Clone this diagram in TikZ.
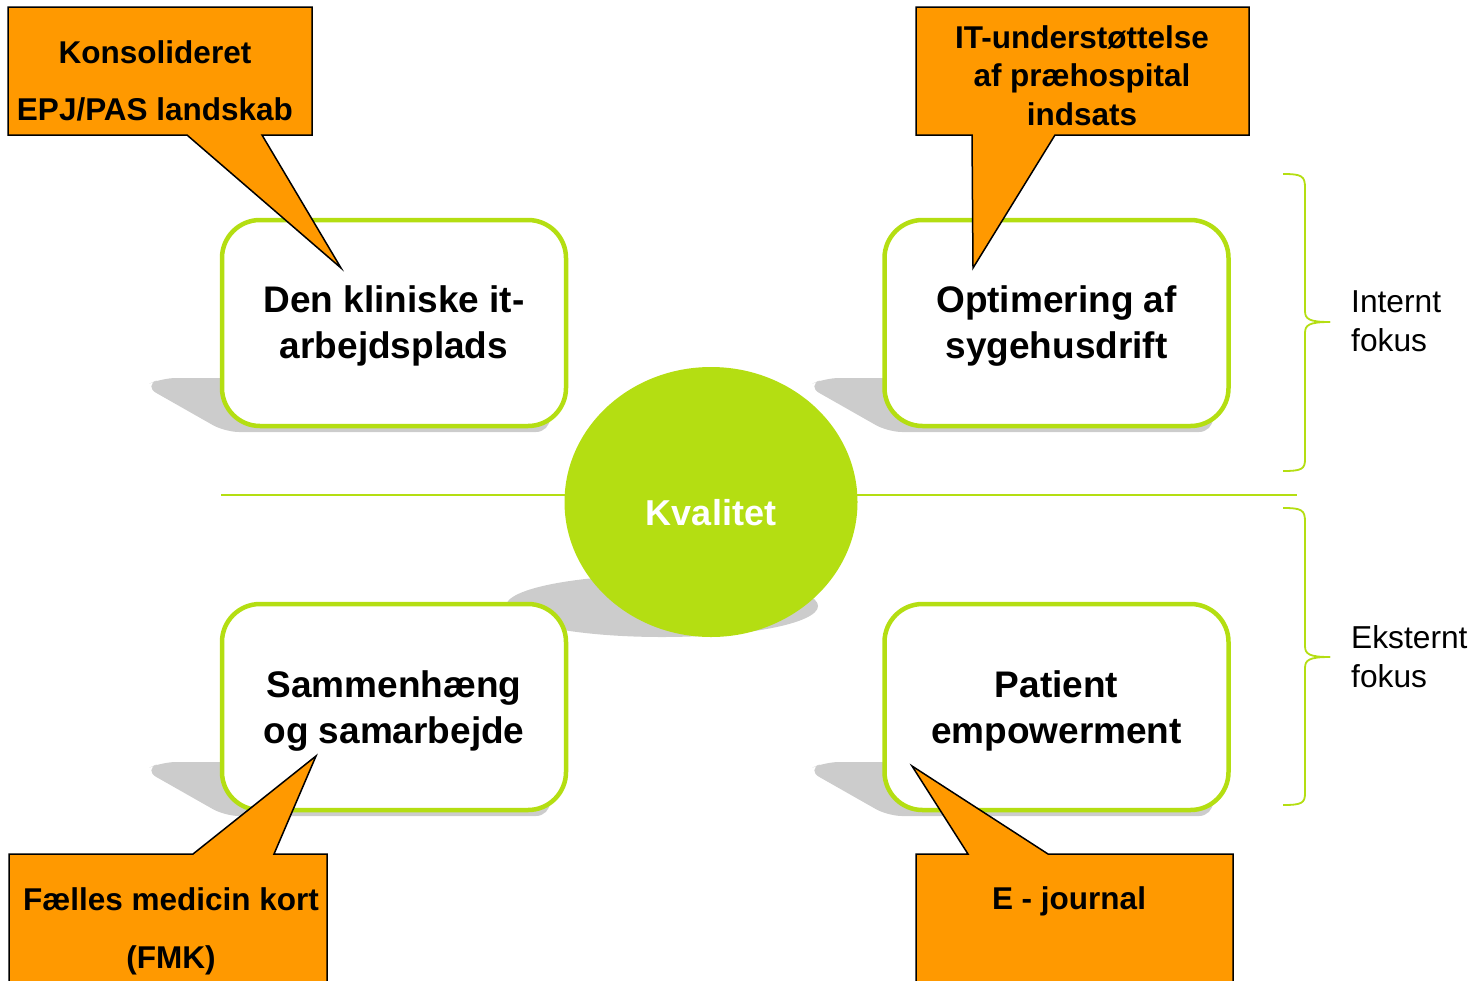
\documentclass[tikz,border=0pt]{standalone}
\usepackage{fontspec}
\setmainfont{Liberation Sans}
\usetikzlibrary{shapes.geometric}
\definecolor{kgreen}{RGB}{180,222,18}
\definecolor{korange}{RGB}{255,153,0}
\definecolor{kshadow}{RGB}{204,204,204}
\begin{document}
\begin{tikzpicture}[x=1pt,y=-1pt,
  qbox/.style={draw=kgreen, line width=4.5pt, fill=white, rounded corners=38pt,
    minimum width=344pt, minimum height=206pt, inner sep=0pt},
  qtext/.style={font=\fontsize{37}{46}\selectfont\bfseries, align=center, inner sep=0pt},
  callout/.style={fill=korange, draw=black, line width=1.5pt, line join=miter},
  ctext/.style={font=\fontsize{31.5}{#1}\selectfont\bfseries, align=center, inner sep=0pt},
  ctext/.default=38.5,
  boxshadow/.style={fill=kshadow, rounded corners=14pt},
  side/.style={font=\fontsize{31.7}{39}\selectfont, align=left, anchor=west, inner sep=0pt},
  bracestyle/.style={draw=kgreen, line width=1.8pt}
]
\useasboundingbox (0,0) rectangle (1474,980);
\clip (0,0) rectangle (1474,980);

% horizontal axis
\coordinate (hl) at (221,495);
\coordinate (hr) at (1297,495);
\draw[kgreen, line width=2pt] (hl) -- (hr);

% circle shadow and circle
\fill[kshadow] (662,606) ellipse [x radius=156, y radius=31];
\node[ellipse, fill=kgreen, minimum width=293pt, minimum height=270pt, inner sep=0pt] (kval) at (711,502) {};
\node[font=\fontsize{36}{44}\selectfont\bfseries, text=white] (kvaltext) at (711,513) {Kvalitet};

% box shadows
\foreach \bx/\by in {220/428, 883/428, 220/812, 883/812}{
  \begin{scope}[shift={(\bx,\by)}]
    \fill[boxshadow] (-76,-42) -- (-58,-50) -- (330,-50) -- (330,4) -- (5,4) -- cycle;
  \end{scope}
}

% boxes
\node[qbox] (box1) at (394,323) {};
\node[qbox] (box2) at (1056.5,323) {};
\node[qbox] (box3) at (394,707) {};
\node[qbox] (box4) at (1056.5,707) {};
\node[qtext] (box1t) at (394,326) {Den kliniske it-\\arbejdsplads};
\node[qtext] (box2t) at (1056.5,326) {Optimering af\\sygehusdrift};
\node[qtext] (box3t) at (394,711) {Sammenhæng\\og samarbejde};
\node[qtext] (box4t) at (1056.5,711) {Patient\\empowerment};

% callouts
\coordinate (t1) at (341,268);
\coordinate (t2) at (973,268);
\coordinate (t3) at (316,756);
\coordinate (t4) at (912,766);
\draw[callout] (8,7) -- (312,7) -- (312,135) -- (262,135) -- (t1) -- (187,135) -- (8,135) -- cycle;
\draw[callout] (916,7) -- (1249,7) -- (1249,135) -- (1055,135) -- (t2) -- (972,135) -- (916,135) -- cycle;
\draw[callout] (9,854) -- (193,854) -- (t3) -- (274,854) -- (327,854) -- (327,1000) -- (9,1000) -- cycle;
\draw[callout] (916,854) -- (968,854) -- (t4) -- (1048,854) -- (1233,854) -- (1233,1000) -- (916,1000) -- cycle;

\node[ctext=57] (c1) at (155,80.5) {Konsolideret\\EPJ/PAS landskab};
\node[ctext=38.5] (c2) at (1082,75.5) {IT-understøttelse\\af præhospital\\indsats};
\node[ctext=58] (c3) at (171,931) {Fælles medicin kort\\(FMK)};
\node[ctext] (c4) at (1069,901) {E - journal};

% braces
\draw[bracestyle] (1283,174) .. controls (1302,174) and (1305,176) .. (1305,188) -- (1305,311)
  .. controls (1305,319) and (1309,322) .. (1330,322);
\draw[bracestyle] (1330,322) .. controls (1309,322) and (1305,325) .. (1305,333) -- (1305,459)
  .. controls (1305,469) and (1302,471) .. (1283,471);
\draw[bracestyle] (1283,508) .. controls (1302,508) and (1305,510) .. (1305,522) -- (1305,646)
  .. controls (1305,654) and (1309,657) .. (1330,657);
\draw[bracestyle] (1330,657) .. controls (1309,657) and (1305,660) .. (1305,668) -- (1305,793)
  .. controls (1305,803) and (1302,805) .. (1283,805);

\node[side] (intern) at (1351,321.5) {Internt\\fokus};
\node[side] (extern) at (1351,656.5) {Eksternt\\fokus};
\end{tikzpicture}
\end{document}
